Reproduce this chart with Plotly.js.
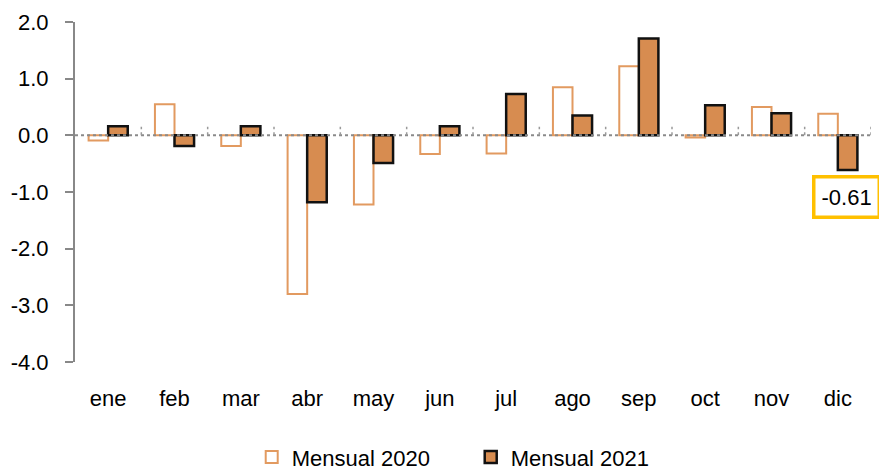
<!DOCTYPE html>
<html>
<head>
<meta charset="utf-8">
<script src="https://cdn.plot.ly/plotly-3.0.1.min.js"></script>
<style>html,body{margin:0;padding:0;background:#fff;}#chart{width:879px;height:471px;}</style>
</head>
<body>
<div id="chart"></div>
<script>
const months = ['ene','feb','mar','abr','may','jun','jul','ago','sep','oct','nov','dic'];
const mensual2020 = [-0.09, 0.55, -0.19, -2.80, -1.22, -0.33, -0.32, 0.85, 1.22, -0.04, 0.50, 0.38];
const mensual2021 = [0.16, -0.19, 0.16, -1.18, -0.49, 0.16, 0.73, 0.35, 1.71, 0.53, 0.39, -0.61];
const yTicks = [-4, -3, -2, -1, 0, 1, 2];
const yTickLabels = ['-4.0', '-3.0', '-2.0', '-1.0', '0.0', '1.0', '2.0'];
const calloutMonth = 'dic';
const calloutValue = -0.61;
const calloutLabel = '-0.61';

const orange = '#D78C50';
const orangeLine = '#E29A60';
const FONT = '"Liberation Sans", Arial, sans-serif';

const traces = [
  {
    type: 'bar', name: 'Mensual 2020', x: months, y: mensual2020,
    marker: {color: 'rgba(255,255,255,0)', line: {color: orangeLine, width: 2}},
    hoverinfo: 'x+y'
  },
  {
    type: 'bar', name: 'Mensual 2021', x: months, y: mensual2021,
    marker: {color: orange, line: {color: '#111111', width: 2.5}},
    hoverinfo: 'x+y'
  }
];

const shapes = [{
  type: 'line', xref: 'paper', x0: 0, x1: 1, yref: 'y', y0: 0, y1: 0,
  line: {color: '#8a8a8a', width: 2, dash: 'dot'}, layer: 'above'
}];
for (let i = 0; i < months.length; i++) {
  shapes.push({
    type: 'line', xref: 'x', x0: i + 0.5, x1: i + 0.5, yref: 'y', y0: 0, y1: 0.15,
    line: {color: '#9a9a9a', width: 1.5, dash: 'dot'}, layer: 'above'
  });
}

const layout = {
  width: 879, height: 471,
  margin: {l: 75, r: 8, t: 22, b: 109, autoexpand: false},
  paper_bgcolor: '#fff', plot_bgcolor: '#fff',
  font: {family: FONT, color: '#000', size: 22},
  barmode: 'group', bargap: 0.41, bargroupgap: 0,
  showlegend: true,
  legend: {orientation: 'h', x: 0.222, xanchor: 'left', y: -0.28, yanchor: 'middle',
           font: {family: FONT, size: 22}, itemwidth: 30, tracegroupgap: 0,
           entrywidth: 174},
  xaxis: {
    type: 'category', range: [-0.5, months.length - 0.5], autorange: false,
    showgrid: false, zeroline: false, showline: false, automargin: false,
    ticks: '', ticklabelstandoff: 21, tickfont: {family: FONT, size: 22}, fixedrange: true
  },
  yaxis: {
    range: [-4, 2], autorange: false, tickmode: 'array', tickvals: yTicks, ticktext: yTickLabels,
    automargin: false,
    showgrid: false, zeroline: false, showline: true, linecolor: '#888', linewidth: 2,
    ticks: 'outside', ticklen: 8, tickcolor: '#888', tickwidth: 2,
    tickfont: {family: FONT, size: 22}, ticklabelstandoff: 12, fixedrange: true
  },
  shapes: shapes,
  annotations: [{
    x: calloutMonth, y: calloutValue, xref: 'x', yref: 'y',
    text: calloutLabel, showarrow: false,
    xanchor: 'left', xshift: -26, yshift: -27,
    font: {family: FONT, size: 22, color: '#000'},
    bgcolor: '#fff', bordercolor: '#FFC000', borderwidth: 3.5, borderpad: 6
  }]
};

Plotly.newPlot('chart', traces, layout, {displayModeBar: false, staticPlot: true});
</script>
</body>
</html>
